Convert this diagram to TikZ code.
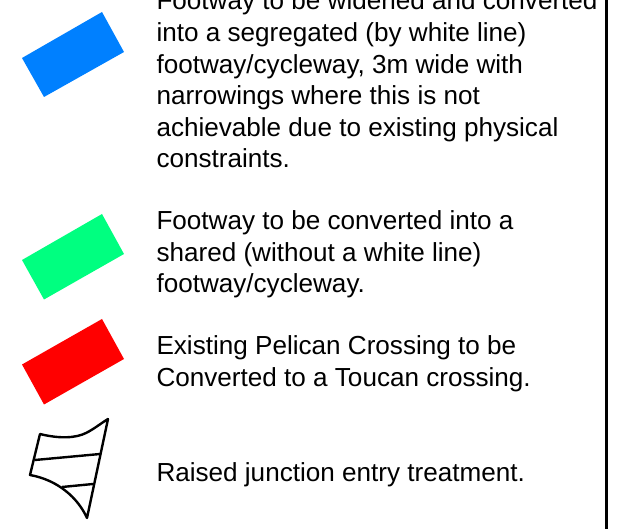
\documentclass[tikz,border=0pt]{standalone}
\usepackage{fontspec}
\setmainfont{Liberation Sans}
\tikzset{
  legendtext/.style={anchor=base west,inner sep=0pt,outer sep=0pt,font=\fontsize{26.1pt}{32pt}\selectfont},
  sym/.style={draw=black,line width=2.4pt,line join=round}
}
\definecolor{bluefill}{RGB}{0,128,255}
\definecolor{greenfill}{RGB}{0,255,128}
\begin{document}
\begin{tikzpicture}[x=1pt,y=-1pt]
\useasboundingbox (0,0) rectangle (619,529);
\fill[white] (0,0) rectangle (619,529);
\fill[bluefill] (102,12) -- (124,52) -- (44,97) -- (22,58) -- cycle;
\fill[greenfill] (102,214) -- (124,254) -- (44,299.5) -- (22,260) -- cycle;
\fill[red] (102,319) -- (124,359) -- (44,404.5) -- (22,364.5) -- cycle;
\draw[sym] (40,434) .. controls (60,439) and (76,438) .. (86,433) .. controls (94,429) and (100,424) .. (108,419) -- (87,518) .. controls (78,498) and (58,480) .. (30,475) -- cycle;
\draw[sym] (35,460) -- (100,454);
\draw[sym] (62,487) -- (93,484);
\draw[black,line width=2.6pt] (606.5,0) -- (606.5,529);
\node[legendtext] (a1) at (156.5,10) {Footway to be widened and converted};
\node[legendtext] (a2) at (156.5,41.7) {into a segregated (by white line)};
\node[legendtext] (a3) at (156.5,73.4) {footway/cycleway, 3m wide with};
\node[legendtext] (a4) at (156.5,104.7) {narrowings where this is not};
\node[legendtext] (a5) at (156.5,136.2) {achievable due to existing physical};
\node[legendtext] (a6) at (156.5,167.7) {constraints.};
\node[legendtext] (b1) at (156.5,230) {Footway to be converted into a};
\node[legendtext] (b2) at (156.5,261.2) {shared (without a white line)};
\node[legendtext] (b3) at (156.5,292.7) {footway/cycleway.};
\node[legendtext] (c1) at (156.5,355) {Existing Pelican Crossing to be};
\node[legendtext] (c2) at (156.5,386.4) {Converted to a Toucan crossing.};
\node[legendtext] (d) at (156.5,481.4) {Raised junction entry treatment.};
\end{tikzpicture}
\end{document}
